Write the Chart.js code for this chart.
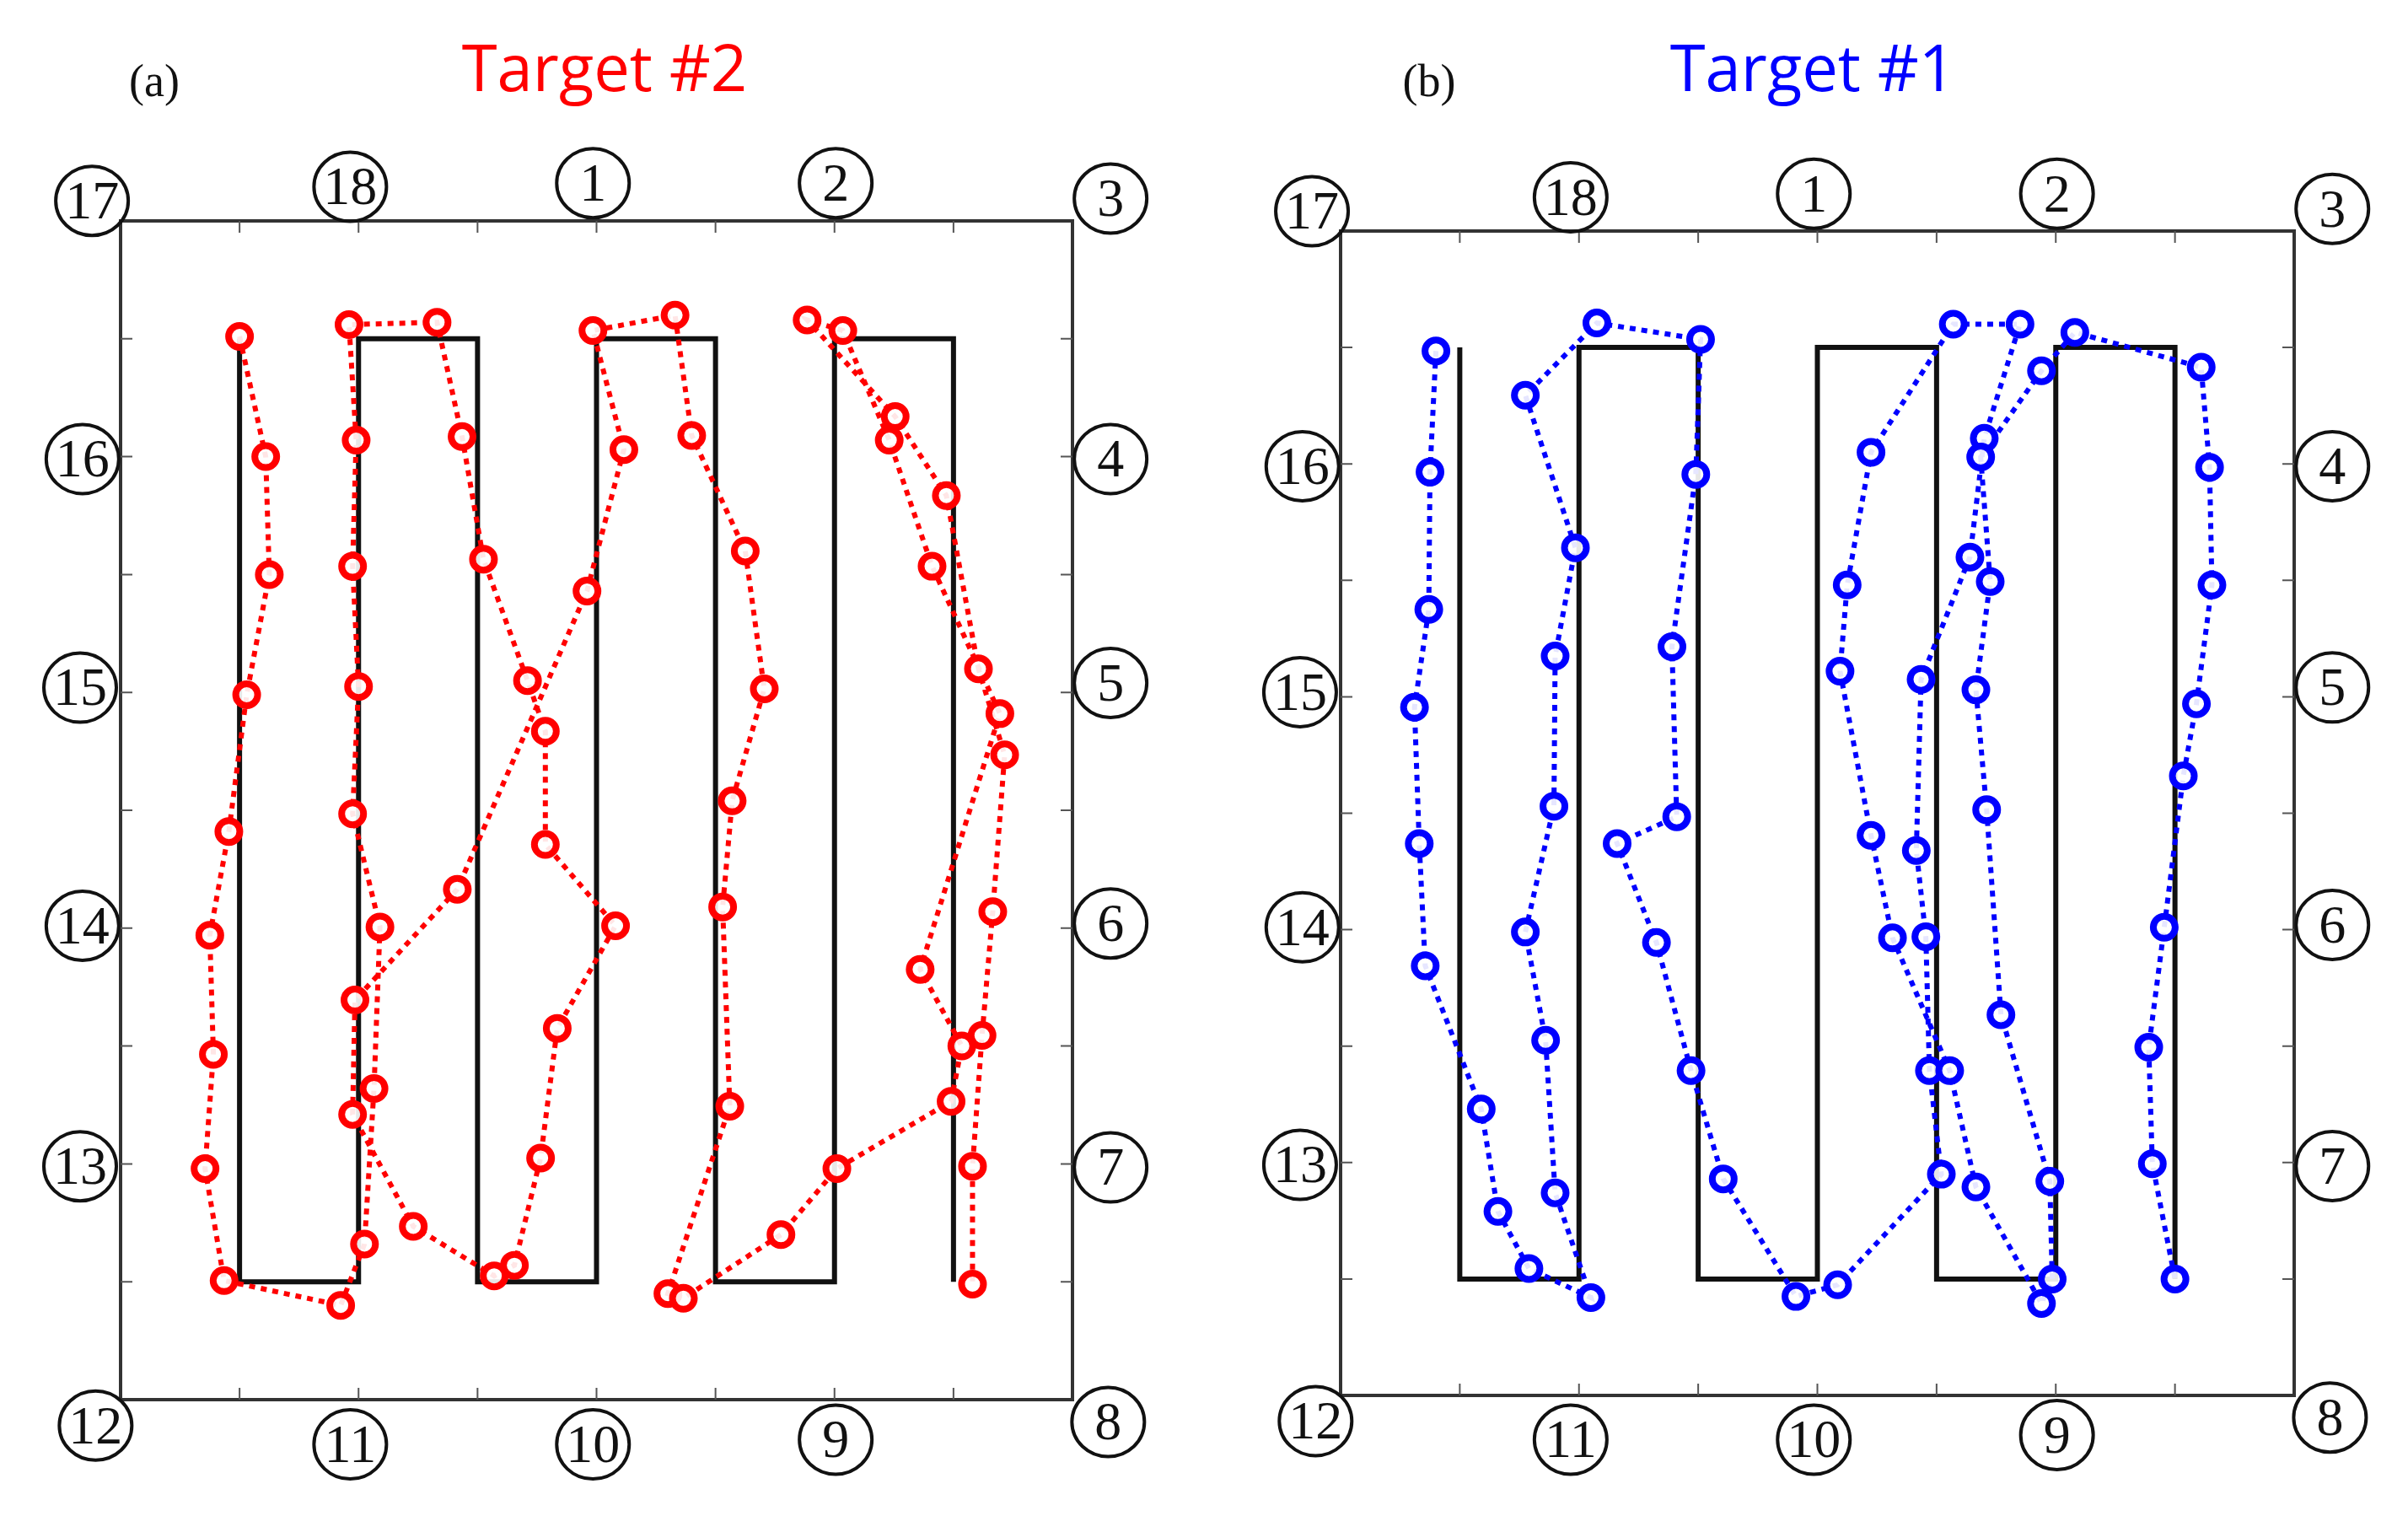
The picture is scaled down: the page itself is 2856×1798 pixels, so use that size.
<!DOCTYPE html>
<html>
<head>
<meta charset="utf-8">
<script src="https://cdn.jsdelivr.net/npm/chart.js@4.4.1/dist/chart.umd.min.js"></script>
<style>
  html, body { margin: 0; padding: 0; background: #fff; }
  #wrap { position: relative; width: 2856px; height: 1798px; }
  canvas { position: absolute; top: 0; }
</style>
</head>
<body>
<div id="wrap">
  <canvas id="chartA" width="1428" height="1798" style="left:0"></canvas>
  <canvas id="chartB" width="1428" height="1798" style="left:1428px"></canvas>
</div>
<script>
// --------------------
// Data (grid units: x 0..8, y 0..10)
// --------------------
const pathX = [1, 1, 2, 2, 3, 3, 4, 4, 5, 5, 6, 6, 7, 7];
const pathY = [9, 1, 1, 9, 9, 1, 1, 9, 9, 1, 1, 9, 9, 1];

const target2X = [1.00,1.22,1.25,1.06,0.91,0.75,0.78,0.71,0.87,1.85,2.05,2.13,2.18,1.95,2.00,1.95,1.98,1.92,2.66,2.87,3.05,3.42,3.57,3.57,4.16,3.67,3.53,3.31,3.14,2.46,1.95,1.97,2.83,3.92,4.23,3.97,4.66,4.80,5.25,5.41,5.14,5.06,5.12,4.60,4.73,5.55,6.02,6.98,7.07,6.72,7.39,6.82,6.46,6.07,5.77,6.51,6.94,7.21,7.43,7.33,7.24,7.16,7.16];
const target2Y = [9.02,8.00,7.00,5.98,4.82,3.94,2.93,1.96,1.01,0.80,1.32,2.64,4.01,4.97,6.05,7.07,8.14,9.12,9.14,8.17,7.13,6.10,5.67,4.71,4.02,3.15,2.05,1.14,1.05,1.47,2.42,3.39,4.33,6.86,8.06,9.07,9.20,8.18,7.20,6.03,5.08,4.18,2.49,0.90,0.86,1.40,1.96,2.53,3.00,3.65,5.82,7.07,8.14,9.07,9.16,8.34,7.67,6.20,5.47,4.14,3.09,1.98,0.98];

const target1X = [0.80,0.75,0.74,0.62,0.66,0.71,1.18,1.32,1.58,2.10,1.80,1.72,1.55,1.79,1.80,1.97,1.55,2.15,3.02,2.98,2.78,2.82,2.32,2.65,2.94,3.21,3.82,4.17,5.04,4.94,4.91,4.83,4.87,5.28,5.40,5.70,5.14,4.45,4.25,4.19,4.45,4.63,5.11,5.33,5.88,5.97,5.95,5.54,5.42,5.33,5.45,5.37,5.88,6.16,7.22,7.29,7.31,7.18,7.07,6.91,6.78,6.81,7.00];
const target1Y = [8.97,7.93,6.75,5.91,4.74,3.69,2.46,1.58,1.09,0.84,1.74,3.05,3.98,5.06,6.35,7.28,8.59,9.21,9.07,7.91,6.43,4.97,4.74,3.89,2.79,1.86,0.85,0.95,1.90,2.79,3.94,4.68,6.15,7.20,8.22,9.20,9.20,8.10,6.96,6.22,4.81,3.93,2.79,1.79,0.79,1.00,1.84,3.27,5.03,6.06,6.99,8.06,8.80,9.13,8.83,7.97,6.96,5.94,5.32,4.02,2.99,1.99,1.00];

// circled node numbers and where they sit around the frame
const nodeLabels = ['17','18','1','2','3','16','4','15','5','14','6','13','7','12','11','10','9','8'];
const nodeX = [-0.24,1.93,3.97,6.01,8.32,-0.32,8.32,-0.34,8.32,-0.32,8.32,-0.34,8.32,-0.21,1.93,3.97,6.01,8.30];
const nodeY = [10.17,10.29,10.32,10.32,10.19,7.98,7.98,6.04,6.08,4.02,4.04,1.98,1.97,-0.22,-0.38,-0.38,-0.34,-0.19];

// --------------------
// Helpers
// --------------------
function toPoints(xs, ys) {
    return xs.map((x, i) => ({ x: x, y: ys[i] }));
}

const framePlugin = {
    id: 'frame',
    afterDraw(chart, args, opts) {
        const { ctx, chartArea: a, scales } = chart;
        const sx = scales.x, sy = scales.y;
        ctx.save();

        // frame box
        ctx.strokeStyle = '#333';
        ctx.lineWidth = 4;
        ctx.strokeRect(a.left, a.top, a.right - a.left, a.bottom - a.top);

        // inward ticks
        ctx.lineWidth = 2;
        ctx.strokeStyle = '#555';
        for (let i = 1; i < 8; i++) {
            const px = sx.getPixelForValue(i);
            ctx.beginPath();
            ctx.moveTo(px, a.top); ctx.lineTo(px, a.top + 14);
            ctx.moveTo(px, a.bottom); ctx.lineTo(px, a.bottom - 14);
            ctx.stroke();
        }
        for (let j = 1; j < 10; j++) {
            const py = sy.getPixelForValue(j);
            ctx.beginPath();
            ctx.moveTo(a.left, py); ctx.lineTo(a.left + 14, py);
            ctx.moveTo(a.right, py); ctx.lineTo(a.right - 14, py);
            ctx.stroke();
        }

        // circled node numbers
        ctx.lineWidth = 4;
        ctx.strokeStyle = '#111';
        ctx.fillStyle = '#111';
        ctx.font = '64px "Liberation Serif", serif';
        ctx.textAlign = 'center';
        ctx.textBaseline = 'middle';
        nodeLabels.forEach((lab, i) => {
            const cx = sx.getPixelForValue(nodeX[i]);
            const cy = sy.getPixelForValue(nodeY[i]);
            ctx.beginPath();
            ctx.ellipse(cx, cy, 43, 41, 0, 0, Math.PI * 2);
            ctx.stroke();
            ctx.fillText(lab, cx, cy + 4);
        });

        // panel letter and title
        ctx.font = '54px "Liberation Serif", serif';
        ctx.fillText(opts.letter, opts.letterX, 100);
        ctx.fillStyle = opts.color;
        ctx.font = '76px "Open Sans", sans-serif';
        ctx.fillText(opts.title, opts.titleX, 86);
        ctx.restore();
    }
};

function makePanel(canvasId, xs, ys, color, padding, frameOpts) {
    const ctx = document.getElementById(canvasId).getContext('2d');
    return new Chart(ctx, {
        type: 'scatter',
        data: {
            datasets: [
                {
                    data: toPoints(xs, ys),
                    showLine: true,
                    borderColor: color,
                    borderWidth: 6,
                    borderDash: [7, 7],
                    pointStyle: 'circle',
                    pointRadius: 13,
                    pointBorderWidth: 8,
                    pointBorderColor: color,
                    pointBackgroundColor: 'rgba(255,255,255,0.9)',
                    order: 1
                },
                {
                    data: toPoints(pathX, pathY),
                    showLine: true,
                    borderColor: '#111',
                    borderWidth: 6,
                    pointRadius: 0,
                    order: 2
                }
            ]
        },
        options: {
            responsive: false,
            animation: false,
            devicePixelRatio: 1,
            layout: { padding: padding },
            plugins: {
                legend: { display: false },
                tooltip: { enabled: false },
                frame: frameOpts
            },
            scales: {
                x: { type: 'linear', min: 0, max: 8, display: false },
                y: { type: 'linear', min: 0, max: 10, display: false }
            }
        },
        plugins: [framePlugin]
    });
}

// --------------------
// Panels
// --------------------
makePanel('chartA', target2X, target2Y, '#ff0000',
    { left: 143, right: 156, top: 262, bottom: 138 },
    { letter: '(a)', letterX: 183, title: 'Target #2', titleX: 717, color: '#ff0000' });

makePanel('chartB', target1X, target1Y, '#0000ff',
    { left: 162, right: 135, top: 274, bottom: 143 },
    { letter: '(b)', letterX: 267, title: 'Target #1', titleX: 722, color: '#0000ff' });
</script>
</body>
</html>
